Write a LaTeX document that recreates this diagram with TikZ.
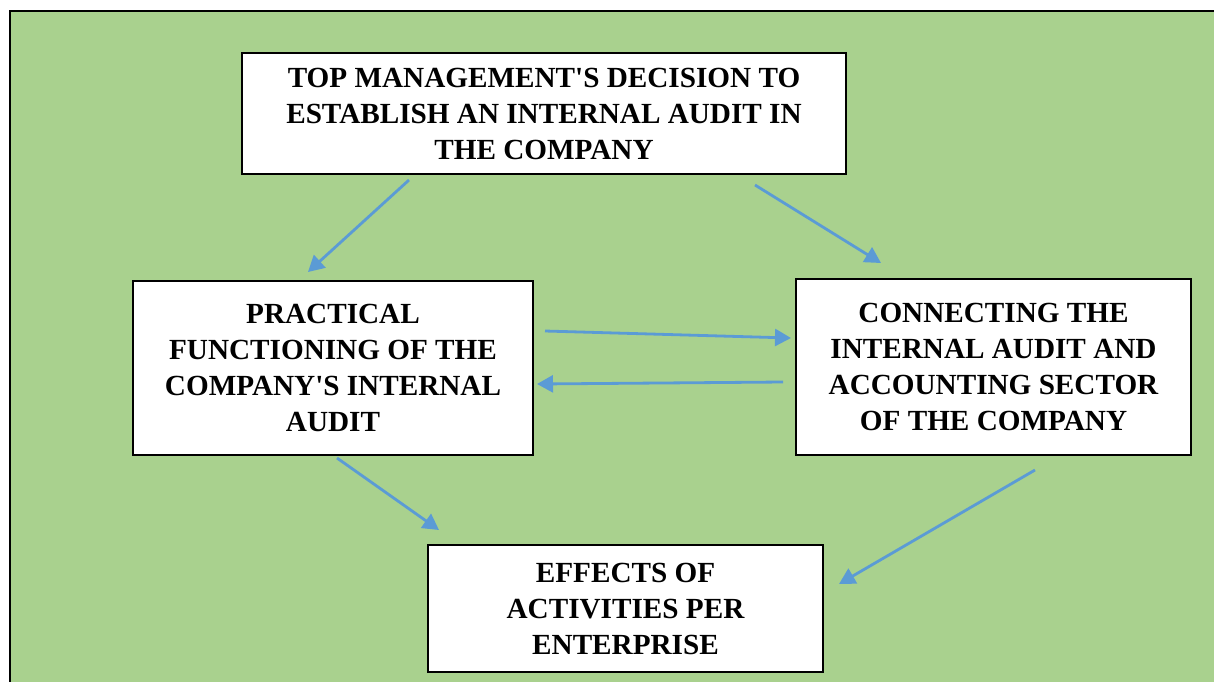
\documentclass[tikz,border=0pt]{standalone}
\usepackage{fontspec}
\setmainfont{Liberation Serif}
\usetikzlibrary{arrows.meta}
\definecolor{bggreen}{HTML}{A9D18E}
\definecolor{arrowblue}{HTML}{5B9BD5}
\begin{document}
\begin{tikzpicture}[x=1pt,y=-1pt,
  box/.style={draw=black, line width=1.2pt, fill=white, align=center,
    font=\fontsize{29.2}{36}\selectfont\bfseries, inner sep=0pt},
  conn/.style={draw=arrowblue, line width=2.8pt,
    -{Triangle[length=16pt,width=17pt]}}]
\useasboundingbox (0,0) rectangle (1214,681);
\fill[white] (0,0) rectangle (1214,681);
\draw[fill=bggreen, line width=2.4pt] (10,11) rectangle (1240,700);
% boxes
\node[box, minimum width=604pt, minimum height=121pt] (top) at (544,113.5)
  {TOP MANAGEMENT\textquotesingle S DECISION TO\\ESTABLISH AN INTERNAL AUDIT IN\\THE COMPANY};
\node[box, minimum width=400pt, minimum height=174pt] (left) at (333,368)
  {PRACTICAL\\FUNCTIONING OF THE\\COMPANY\textquotesingle S INTERNAL\\AUDIT};
\node[box, minimum width=395pt, minimum height=176pt] (right) at (993.5,367)
  {CONNECTING THE\\INTERNAL AUDIT AND\\ACCOUNTING SECTOR\\OF THE COMPANY};
\node[box, minimum width=395pt, minimum height=127pt] (bottom) at (625.5,608.5)
  {EFFECTS OF\\ACTIVITIES PER\\ENTERPRISE};
% connector end points
\coordinate (a1s) at (409,180); \coordinate (a1e) at (308,272);
\coordinate (a2s) at (755,185); \coordinate (a2e) at (881,263);
\coordinate (a3s) at (545,331); \coordinate (a3e) at (791,338);
\coordinate (a4s) at (783,382); \coordinate (a4e) at (537,384);
\coordinate (a5s) at (337,458); \coordinate (a5e) at (439,530);
\coordinate (a6s) at (1035,470); \coordinate (a6e) at (839,584);
\draw[conn] (a1s) -- (a1e);
\draw[conn] (a2s) -- (a2e);
\draw[conn] (a3s) -- (a3e);
\draw[conn] (a4s) -- (a4e);
\draw[conn] (a5s) -- (a5e);
\draw[conn] (a6s) -- (a6e);
\end{tikzpicture}
\end{document}
